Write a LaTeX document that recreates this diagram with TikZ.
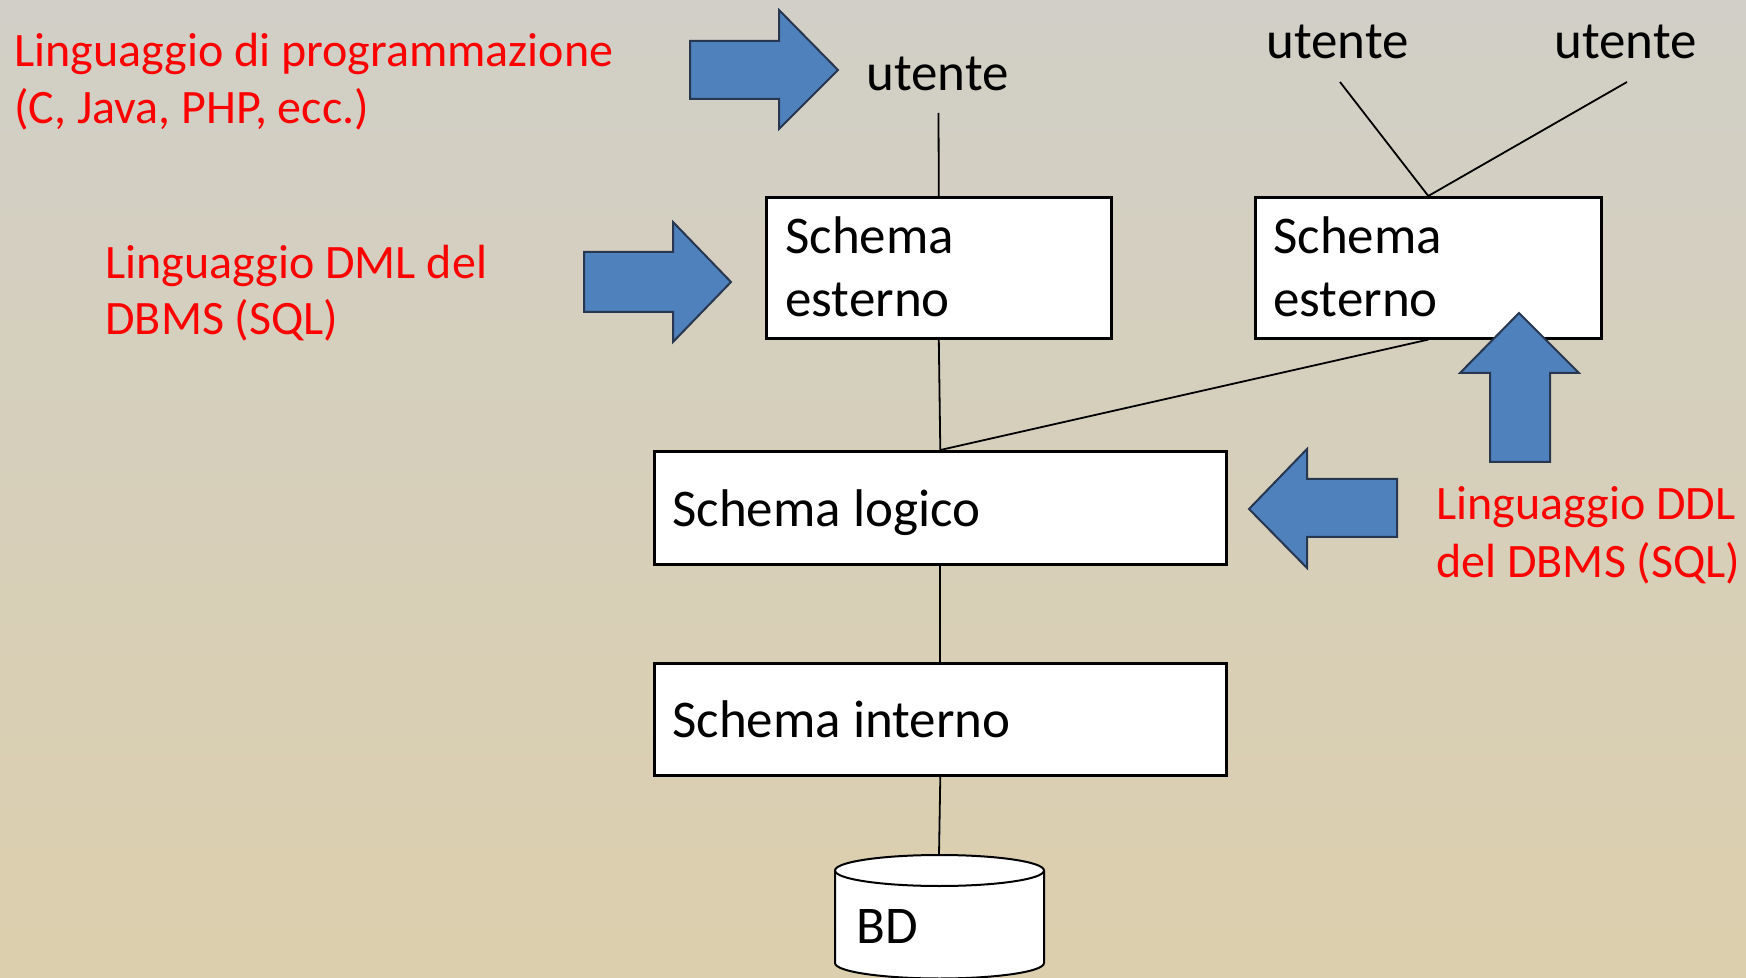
\documentclass[tikz,border=0pt]{standalone}
\usepackage{fontspec}
\setmainfont{Carlito}
\definecolor{arrowblue}{RGB}{79,129,189}
\definecolor{arrowline}{RGB}{40,55,80}
\definecolor{bgtop}{RGB}{209,207,199}
\definecolor{bgmid}{RGB}{239,234,215}
\definecolor{bgbot}{RGB}{220,207,173}
\definecolor{redtext}{RGB}{255,0,0}
\begin{document}
\begin{tikzpicture}[x=0.5pt,y=-0.5pt,
  box/.style={draw=black, line width=1.3pt, fill=white, inner sep=0pt, anchor=north west},
  blk/.style={font=\fontsize{26.5pt}{31.5pt}\selectfont, text=black, inner sep=0pt, anchor=base west},
  red/.style={font=\fontsize{24pt}{29pt}\selectfont, text=redtext, inner sep=0pt, anchor=base west},
  bigarrow/.style={fill=arrowblue, draw=arrowline, line width=1pt, line join=miter},
  conn/.style={draw=black, line width=0.9pt}]
\useasboundingbox (0,0) rectangle (1746,978);
\shade[top color=bgtop, middle color=bgmid, bottom color=bgbot] (0,0) rectangle (1746,978);

% red labels
\node[red] (prog1) at (14,67) {Linguaggio di programmazione};
\node[red] (prog2) at (14,124) {(C, Java, PHP, ecc.)};
\node[red] (dml1) at (105,279) {Linguaggio DML del};
\node[red] (dml2) at (105,335) {DBMS (SQL)};
\node[red] (ddl1) at (1436,520) {Linguaggio DDL};
\node[red] (ddl2) at (1436,577) {del DBMS (SQL)};

% users
\node[blk] (u1) at (866,91) {utente};
\node[blk] (u2) at (1266,59) {utente};
\node[blk] (u3) at (1554,59) {utente};
\coordinate (u1end) at (938.5,113);
\coordinate (u2end) at (1340,82);
\coordinate (u3end) at (1627,82);

% boxes
\node[box, minimum width=172.5pt, minimum height=70.5pt] (ext1) at (765,196) {};
\node[box, minimum width=173pt, minimum height=70.5pt] (ext2) at (1254,196) {};
\node[box, minimum width=286pt, minimum height=56.5pt] (log) at (653,450) {};
\node[box, minimum width=286pt, minimum height=56pt] (int) at (653,662) {};

\node[blk] (e1a) at (785,254) {Schema};
\node[blk] (e1b) at (785,317) {esterno};
\node[blk] (e2a) at (1273,254) {Schema};
\node[blk] (e2b) at (1273,317) {esterno};
\node[blk] (logt) at (672,526) {Schema logico};
\node[blk] (intt) at (672,737) {Schema interno};

% cylinder
\coordinate (bdtop) at (939,855);
\filldraw[fill=white, draw=black, line width=1pt]
  (835,870.5) -- (835,963) arc[start angle=180, end angle=360, x radius=52.25pt, y radius=7.75pt]
  -- (1044,870.5) arc[start angle=0, end angle=180, x radius=52.25pt, y radius=7.75pt] -- cycle;
\draw[black, line width=1pt] (835,870.5) arc[start angle=180, end angle=360, x radius=52.25pt, y radius=7.75pt];
\node[blk] (bd) at (856,943) {BD};

% connectors
\draw[conn] (u1end) -- (ext1.north);
\draw[conn] (u2end) -- (ext2.north) -- (u3end);
\draw[conn] (ext1.south) -- (log.north);
\draw[conn] (ext2.south) -- (log.north);
\draw[conn] (log.south) -- (int.north);
\draw[conn] (int.south) -- (bdtop);

% block arrows
\draw[bigarrow] (690,41) -- (779,41) -- (779,10) -- (838,70) -- (779,129) -- (779,99) -- (690,99) -- cycle;
\draw[bigarrow] (584,252) -- (673,252) -- (673,222) -- (731,282) -- (673,342) -- (673,312) -- (584,312) -- cycle;
\draw[bigarrow] (1397,479) -- (1307,479) -- (1307,449) -- (1249,509) -- (1307,568) -- (1307,537) -- (1397,537) -- cycle;
\draw[bigarrow] (1490,462) -- (1490,373) -- (1460,373) -- (1519,313) -- (1579,373) -- (1550,373) -- (1550,462) -- cycle;
\end{tikzpicture}
\end{document}
